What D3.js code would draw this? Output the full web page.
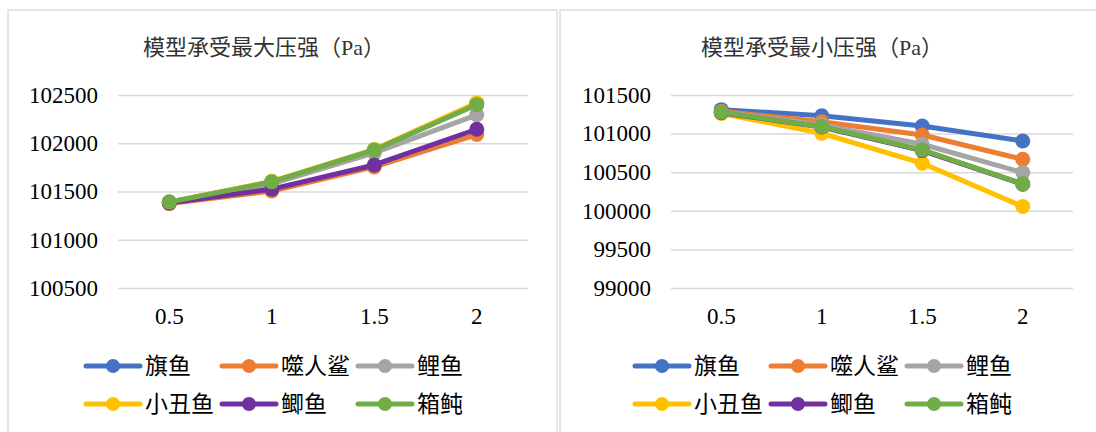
<!DOCTYPE html>
<html>
<head>
<meta charset="utf-8">
<script src="https://cdn.jsdelivr.net/npm/d3@7"></script>
<style>
  html, body { margin: 0; padding: 0; background: #fff; }
  svg { display: block; }
  text { font-family: "Liberation Serif", "Noto Sans CJK SC", serif; fill: #000; }
</style>
</head>
<body>
<svg id="chart" width="1096" height="432"></svg>
<script>
// Categories on the x axis
const categories = ["0.5", "1", "1.5", "2"];

// Fish model series
const seriesNames = ["旗鱼", "噬人鲨", "鲤鱼", "小丑鱼", "鲫鱼", "箱鲀"];
const seriesColors = ["#4472C4", "#ED7D31", "#A5A5A5", "#FFC000", "#7030A0", "#70AD47"];

// Maximum pressure borne by each model (Pa)
const maxSailfish  = [101390, 101600, 101930, 102410];
const maxShark     = [101375, 101505, 101755, 102090];
const maxCarp      = [101390, 101580, 101900, 102295];
const maxClownfish = [101390, 101605, 101935, 102420];
const maxCrucian   = [101380, 101525, 101775, 102145];
const maxBoxfish   = [101390, 101600, 101930, 102400];

// Minimum pressure borne by each model (Pa)
const minSailfish  = [101310, 101232, 101099, 100905];
const minShark     = [101290, 101154, 100982, 100668];
const minCarp      = [101280, 101111, 100862, 100495];
const minClownfish = [101260, 101004, 100616, 100055];
const minCrucian   = [101270, 101085, 100780, 100345];
const minBoxfish   = [101275, 101090, 100788, 100349];

// Tick labels of the value axes
const maxTicks = [100500, 101000, 101500, 102000, 102500];
const minTicks = [99000, 99500, 100000, 100500, 101000, 101500];

const maxTitle = "模型承受最大压强（Pa）";
const minTitle = "模型承受最小压强（Pa）";

const svg = d3.select("#chart");
svg.append("rect").attr("width", 1096).attr("height", 432).attr("fill", "#fff");

function drawPanel(cfg) {
  const g = svg.append("g");

  // chart area frame
  g.append("rect")
    .attr("x", cfg.box[0]).attr("y", cfg.box[1])
    .attr("width", cfg.box[2]).attr("height", cfg.box[3])
    .attr("fill", "#fff").attr("stroke", "#d9d9d9").attr("stroke-width", 1.3);

  g.append("text")
    .attr("x", cfg.titleX).attr("y", 47)
    .attr("text-anchor", "middle").attr("dominant-baseline", "central")
    .style("font-size", "22px").style("fill", "#333")
    .text(cfg.title);

  const x = d3.scaleBand().domain(categories).range([cfg.plot[0], cfg.plot[1]]);
  const y = d3.scaleLinear().domain(d3.extent(cfg.ticks)).range([288, 95]);
  const cx = c => x(c) + x.bandwidth() / 2;

  // value axis with gridlines
  const yAxis = g.append("g")
    .attr("transform", `translate(${cfg.plot[0]},0)`)
    .call(d3.axisLeft(y).tickValues(cfg.ticks).tickFormat(d3.format("d"))
      .tickSize(-(cfg.plot[1] - cfg.plot[0])).tickPadding(20));
  yAxis.select(".domain").remove();
  yAxis.selectAll("line").attr("stroke", "#d9d9d9").attr("stroke-width", 1.5);
  yAxis.selectAll("text").style("font-size", "23px").style("font-family", "Liberation Serif").attr("fill", "#000");

  // category axis labels
  const xAxis = g.append("g")
    .attr("transform", "translate(0,288)")
    .call(d3.axisBottom(x).tickSize(0).tickPadding(20));
  xAxis.select(".domain").remove();
  xAxis.selectAll("text").style("font-size", "23px").style("font-family", "Liberation Serif").attr("fill", "#000");

  const line = d3.line().x((d, i) => cx(categories[i])).y(d => y(d));

  cfg.series.forEach((vals, s) => {
    const sg = g.append("g");
    sg.append("path")
      .datum(vals)
      .attr("d", line)
      .attr("fill", "none")
      .attr("stroke", seriesColors[s])
      .attr("stroke-width", 5)
      .attr("stroke-linejoin", "round")
      .attr("stroke-linecap", "round");
    sg.selectAll("circle")
      .data(vals)
      .join("circle")
      .attr("cx", (d, i) => cx(categories[i]))
      .attr("cy", d => y(d))
      .attr("r", 7.5)
      .attr("fill", seriesColors[s]);
  });

  // legend: three columns, two rows
  seriesNames.forEach((name, i) => {
    const lx = cfg.legendX + (i % 3) * 136;
    const ly = 366 + Math.floor(i / 3) * 38;
    const lg = g.append("g");
    lg.append("line")
      .attr("x1", lx).attr("x2", lx + 54).attr("y1", ly).attr("y2", ly)
      .attr("stroke", seriesColors[i]).attr("stroke-width", 5).attr("stroke-linecap", "round");
    lg.append("circle").attr("cx", lx + 27).attr("cy", ly).attr("r", 7).attr("fill", seriesColors[i]);
    lg.append("text")
      .attr("x", lx + 59).attr("y", ly)
      .attr("dominant-baseline", "central")
      .style("font-size", "23px")
      .text(name);
  });
}

drawPanel({
  box: [8, 10, 549, 440],
  plot: [118, 528],
  titleX: 264,
  title: maxTitle,
  ticks: maxTicks,
  series: [maxSailfish, maxShark, maxCarp, maxClownfish, maxCrucian, maxBoxfish],
  legendX: 86
});

drawPanel({
  box: [560, 10, 560, 440],
  plot: [671, 1073],
  titleX: 822,
  title: minTitle,
  ticks: minTicks,
  series: [minSailfish, minShark, minCarp, minClownfish, minCrucian, minBoxfish],
  legendX: 635
});
</script>
</body>
</html>
